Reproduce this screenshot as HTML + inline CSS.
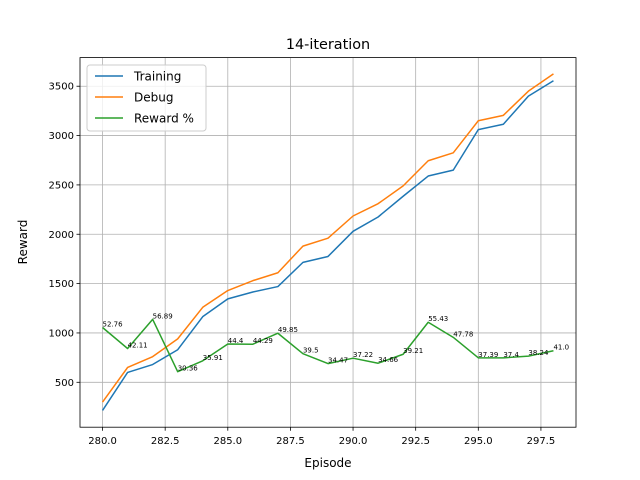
<!DOCTYPE html>
<html><head><meta charset="utf-8"><style>
body{margin:0;background:#fff;}
svg{display:block;font-family:"DejaVu Sans","Liberation Sans",sans-serif;}
</style></head><body>
<svg id="chart" width="640" height="480">
<rect width="640" height="480" fill="#fff"/>
<text x="328" y="49" font-size="14.4" text-anchor="middle">14-iteration</text>
<g id="grid"></g>
<g id="ticks"></g>
<g id="series"></g>
<rect x="80" y="57.6" width="496" height="369.6" fill="none" stroke="#000" stroke-width="0.8"/>
<text x="328" y="467" font-size="12" text-anchor="middle">Episode</text>
<text x="27" y="242" font-size="12" text-anchor="middle" transform="rotate(-90 27 242)">Reward</text>
<g>
<rect x="87" y="65" width="119" height="66" fill="#fff" fill-opacity="0.8" stroke="#ccc" rx="3"/>
<g><line x1="95" x2="123" y1="76" y2="76" stroke="#1f77b4" stroke-width="1.5"/><text x="134" y="80.5" font-size="12">Training</text></g>
<g><line x1="95" x2="123" y1="97" y2="97" stroke="#ff7f0e" stroke-width="1.5"/><text x="134" y="101.5" font-size="12">Debug</text></g>
<g><line x1="95" x2="123" y1="118" y2="118" stroke="#2ca02c" stroke-width="1.5"/><text x="134" y="122.5" font-size="12">Reward %</text></g>
</g>
</svg>
<script>
const episodes=[280,281,282,283,284,285,286,287,288,289,290,291,292,293,294,295,296,297,298];
const training=[215,600,680,830,1165,1345,1415,1470,1715,1775,2030,2175,2385,2590,2650,3060,3115,3400,3555];
const debug=[300,650,760,940,1260,1430,1530,1610,1880,1960,2185,2310,2490,2745,2825,3150,3205,3450,3625];
const rewardPct=[52.76,42.11,56.89,30.36,35.91,44.4,44.29,49.85,39.5,34.47,37.22,34.66,39.21,55.43,47.78,37.39,37.4,38.24,41.0];
const xTicks=[280,282.5,285,287.5,290,292.5,295,297.5];
const xTickLabels=["280.0","282.5","285.0","287.5","290.0","292.5","295.0","297.5"];
const yTicks=[500,1000,1500,2000,2500,3000,3500];
const NS="http://www.w3.org/2000/svg";
const X0=80,X1=576,Y0=427.2,Y1=57.6;
const xmin=279.1,xmax=298.9,ymin=45,ymax=3790;
function sx(v){return X0+(v-xmin)/(xmax-xmin)*(X1-X0);}
function sy(v){return Y0-(v-ymin)/(ymax-ymin)*(Y0-Y1);}
function mk(tag,attrs,parent){const e=document.createElementNS(NS,tag);for(const k in attrs)e.setAttribute(k,attrs[k]);parent.appendChild(e);return e;}
const grid=document.getElementById('grid'),ticks=document.getElementById('ticks'),series=document.getElementById('series');
xTicks.forEach((t,i)=>{const x=sx(t);
 const g=mk('line',{x1:x,x2:x,y1:Y1,y2:Y0,stroke:'#b0b0b0','stroke-width':0.8},grid);
 
 
 mk('line',{x1:x,x2:x,y1:Y0,y2:Y0+3.5,stroke:'#000','stroke-width':0.8},ticks);
 const tx=mk('text',{x:x,y:Y0+17,'font-size':10,'text-anchor':'middle'},ticks);tx.textContent=xTickLabels[i];
 
 
});
yTicks.forEach(t=>{const y=sy(t);
 const g=mk('line',{x1:X0,x2:X1,y1:y,y2:y,stroke:'#b0b0b0','stroke-width':0.8},grid);
 
 
 mk('line',{x1:X0-3.5,x2:X0,y1:y,y2:y,stroke:'#000','stroke-width':0.8},ticks);
 const tx=mk('text',{x:X0-6,y:y+3.5,'font-size':10,'text-anchor':'end'},ticks);tx.textContent=t;
 
 
});
function line(vals,color,name){
 const p=vals.map((v,i)=>sx(episodes[i])+','+sy(v)).join(' ');
 const l=mk('polyline',{points:p,fill:'none',stroke:color,'stroke-width':1.5,'stroke-linejoin':'round'},series);
 
 
}
line(training,'#1f77b4','training-line');
line(debug,'#ff7f0e','debug-line');
line(rewardPct.map(v=>v*20),'#2ca02c','reward-pct-line');
rewardPct.forEach((v,i)=>{
 const t=mk('text',{x:sx(episodes[i]),y:sy(v*20)-1,'font-size':7},series);t.textContent=v.toFixed(2).replace(/0$/,'').replace(/\.0$/,'.0');
 if(v===41.0)t.textContent='41.0';
 
 
});
</script>
</body></html>
